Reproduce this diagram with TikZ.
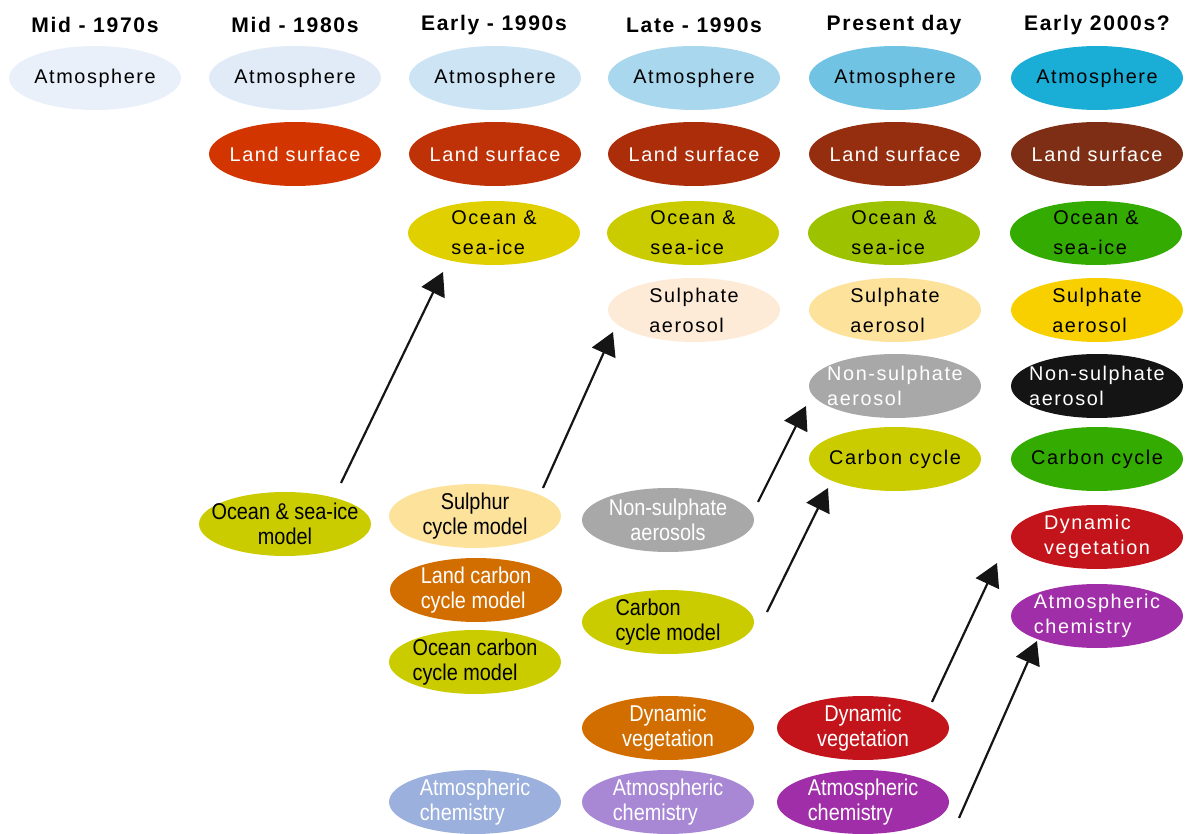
\documentclass[tikz,border=0pt]{standalone}
\usepackage{fontspec}
\setmainfont{Liberation Sans}
\newfontfamily\spaced{Liberation Sans}[LetterSpace=8]
\newfontfamily\narrow{Liberation Sans}[FakeStretch=0.87]
\usetikzlibrary{shapes.geometric,arrows.meta}

\definecolor{atmA}{HTML}{EAF0FA}
\definecolor{atmB}{HTML}{E1EBF7}
\definecolor{atmC}{HTML}{CCE4F4}
\definecolor{atmD}{HTML}{A9D8EE}
\definecolor{atmE}{HTML}{71C3E3}
\definecolor{atmF}{HTML}{1AAED7}
\definecolor{landB}{HTML}{D23500}
\definecolor{landC}{HTML}{BF3106}
\definecolor{landD}{HTML}{AC2D0A}
\definecolor{landE}{HTML}{952D0F}
\definecolor{landF}{HTML}{7E2E14}
\definecolor{oceanC}{HTML}{E1D000}
\definecolor{olive}{HTML}{CACC00}
\definecolor{oceanE}{HTML}{9DC300}
\definecolor{grass}{HTML}{33AB00}
\definecolor{sulphD}{HTML}{FDEBD7}
\definecolor{sulphE}{HTML}{FDE29B}
\definecolor{sulphF}{HTML}{F8D000}
\definecolor{aerogrey}{HTML}{A8A8A8}
\definecolor{aeroblack}{HTML}{141414}
\definecolor{vegorange}{HTML}{D26E00}
\definecolor{vegred}{HTML}{C4141B}
\definecolor{chemblue}{HTML}{9BB0DC}
\definecolor{chemlilac}{HTML}{A888D4}
\definecolor{chempurple}{HTML}{A02EA8}
\definecolor{arrowink}{HTML}{151515}

\tikzset{
  blob/.style={ellipse, minimum width=3.44cm, minimum height=1.28cm, inner sep=-14pt, align=center},
  comp/.style={blob, font={\spaced\fontsize{11.3}{17}\selectfont}},
  tight/.style={font={\spaced\fontsize{11.3}{14.2}\selectfont}},
  model/.style={blob, font={\narrow\fontsize{13}{14.2}\selectfont}},
  year/.style={font={\spaced\bfseries\fontsize{12}{14}\selectfont}},
  arr/.style={draw=arrowink, line width=1.25pt, -{Triangle[length=13pt,width=14.5pt]}}
}

\begin{document}
\begin{tikzpicture}[x=0.02cm,y=-0.02cm]
\useasboundingbox (0,0) rectangle (1188,834);

% periods
\node[year] (y70) at (95,25) {Mid - 1970s};
\node[year] (y80) at (295,25) {Mid - 1980s};
\node[year] (y90a) at (494,25) {Early - 1990s};
\node[year] (y90b) at (694,25) {Late - 1990s};
\node[year] (ynow) at (894,25) {Present day};
\node[year] (y00) at (1097,25) {Early 2000s?};

% coupled components
\node[comp, fill=atmA] (atm1) at (95,78) {Atmosphere};

\node[comp, fill=atmB] (atm2) at (295,78) {Atmosphere};
\node[comp, fill=landB, text=white] (land2) at (295,154) {Land surface};

\node[comp, fill=atmC] (atm3) at (495,78) {Atmosphere};
\node[comp, fill=landC, text=white] (land3) at (495,154) {Land surface};
\node[comp, fill=oceanC, align=left] (ocean3) at (494,233) {Ocean \&\\sea-ice};

\node[comp, fill=atmD] (atm4) at (694,78) {Atmosphere};
\node[comp, fill=landD, text=white] (land4) at (694,154) {Land surface};
\node[comp, fill=olive, align=left] (ocean4) at (693,233) {Ocean \&\\sea-ice};
\node[comp, fill=sulphD, align=left] (sulph4) at (694,310) {Sulphate\\aerosol};

\node[comp, fill=atmE] (atm5) at (895,78) {Atmosphere};
\node[comp, fill=landE, text=white] (land5) at (895,154) {Land surface};
\node[comp, fill=oceanE, align=left] (ocean5) at (894,233) {Ocean \&\\sea-ice};
\node[comp, fill=sulphE, align=left] (sulph5) at (895,310) {Sulphate\\aerosol};
\node[comp, tight, fill=aerogrey, text=white, align=left] (nonsulph5) at (895,386) {Non-sulphate\\aerosol};
\node[comp, fill=olive] (carbon5) at (895,459) {Carbon cycle};

\node[comp, fill=atmF] (atm6) at (1097,78) {Atmosphere};
\node[comp, fill=landF, text=white] (land6) at (1097,154) {Land surface};
\node[comp, fill=grass, align=left] (ocean6) at (1096,233) {Ocean \&\\sea-ice};
\node[comp, fill=sulphF, align=left] (sulph6) at (1097,310) {Sulphate\\aerosol};
\node[comp, tight, fill=aeroblack, text=white, align=left] (nonsulph6) at (1097,386) {Non-sulphate\\aerosol};
\node[comp, fill=grass] (carbon6) at (1097,459) {Carbon cycle};
\node[comp, tight, fill=vegred, text=white, align=left] (dynveg6) at (1097,537) {Dynamic\\vegetation};
\node[comp, tight, fill=chempurple, text=white, align=left] (atmchem6) at (1097,616) {Atmospheric\\chemistry};

% separately developed models
\node[model, fill=olive] (oceanmodel) at (285,524) {Ocean \& sea-ice\\model};

\node[model, fill=sulphE] (sulphurmodel) at (475,516) {Sulphur\\cycle model};
\node[model, fill=vegorange, text=white, align=left] (landcarbon) at (476,590) {Land carbon\\cycle model};
\node[model, fill=olive, align=left] (oceancarbon) at (475,662) {Ocean carbon\\cycle model};
\node[model, fill=chemblue, text=white, align=left] (atmchem3) at (475,802) {Atmospheric\\chemistry};

\node[model, fill=aerogrey, text=white] (nonsulphmodel) at (668,520) {Non-sulphate\\aerosols};
\node[model, fill=olive, align=left] (carbonmodel) at (668,622) {Carbon\\cycle model};
\node[model, fill=vegorange, text=white] (dynveg4) at (668,728) {Dynamic\\vegetation};
\node[model, fill=chemlilac, text=white, align=left] (atmchem4) at (668,802) {Atmospheric\\chemistry};

\node[model, fill=vegred, text=white] (dynveg5) at (863,728) {Dynamic\\vegetation};
\node[model, fill=chempurple, text=white, align=left] (atmchem5) at (863,802) {Atmospheric\\chemistry};

% coupling steps
\draw[arr] ([shift={(56,-41)}]oceanmodel.center) -- ([shift={(-51,39)}]ocean3.center);
\draw[arr] ([shift={(68,-28)}]sulphurmodel.center) -- ([shift={(-81,22)}]sulph4.center);
\draw[arr] ([shift={(90,-18)}]nonsulphmodel.center) -- ([shift={(-89,20)}]nonsulph5.center);
\draw[arr] ([shift={(99,-10)}]carbonmodel.center) -- ([shift={(-67,29)}]carbon5.center);
\draw[arr] ([shift={(69,-26)}]dynveg5.center) -- ([shift={(-100,26)}]dynveg6.center);
\draw[arr] ([shift={(96,16)}]atmchem5.center) -- ([shift={(-60,25)}]atmchem6.center);
\end{tikzpicture}
\end{document}
